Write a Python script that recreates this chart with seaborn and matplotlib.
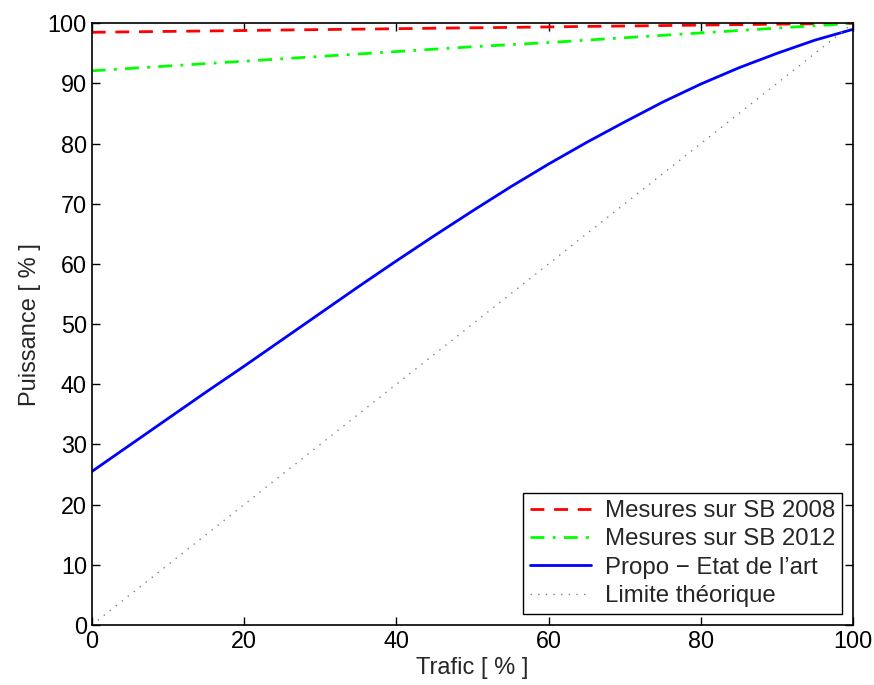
import pandas as pd
import numpy as np
import matplotlib
matplotlib.use("Agg")
import matplotlib.pyplot as plt
import seaborn as sns

# values
trafic = [0, 5, 10, 15, 20, 25, 30, 35, 40, 45, 50,
          55, 60, 65, 70, 75, 80, 85, 90, 95, 100]
sb2008 = [98.5, 98.58, 98.65, 98.72, 98.8, 98.88, 98.95, 99.02, 99.1, 99.18, 99.25,
          99.32, 99.4, 99.48, 99.55, 99.62, 99.7, 99.78, 99.85, 99.92, 100]
sb2012 = [92.1, 92.5, 92.9, 93.3, 93.7, 94.1, 94.5, 94.9, 95.3, 95.7, 96.1,
          96.45, 96.8, 97.2, 97.6, 98.0, 98.4, 98.8, 99.2, 99.6, 100]
propo = [25.5, 29.9, 34.3, 38.7, 43.0, 47.4, 51.8, 56.2, 60.5, 64.7, 68.8,
         72.8, 76.6, 80.2, 83.6, 86.9, 89.9, 92.6, 95.0, 97.2, 99.0]
limite = [0, 5, 10, 15, 20, 25, 30, 35, 40, 45, 50,
          55, 60, 65, 70, 75, 80, 85, 90, 95, 100]

labels = ["Mesures sur SB 2008", "Mesures sur SB 2012",
          "Propo \u2212 Etat de l\u2019art", "Limite th\u00e9orique"]

df = pd.DataFrame({"x": trafic, labels[0]: sb2008, labels[1]: sb2012,
                   labels[2]: propo, labels[3]: limite})

sns.set_style("ticks", {"xtick.direction": "in", "ytick.direction": "in"})
plt.rcParams['font.family'] = ['Liberation Sans', 'DejaVu Sans']

fig = plt.figure(figsize=(8.74, 6.85), dpi=100)
ax = fig.add_axes([0.105, 0.0876, 0.871, 0.8784])

styles = [("red", (0, (5, 3.5))), ("#00ff00", (0, (5, 3, 1, 3))),
          ("blue", "-"), ("grey", (0, (1, 4.5)))]
widths = [2, 2, 2, 1]
for i in range(len(labels)):
    c, ls = styles[i]
    sns.lineplot(x=df.x, y=df[labels[i]], color=c, linestyle=ls,
                 linewidth=widths[i], label=labels[i], ax=ax)

ax.set_xlim(0, 100)
ax.set_ylim(0, 100)
ax.set_xticks(np.arange(0, 101, 20))
ax.set_yticks(np.arange(0, 101, 10))
ax.tick_params(top=True, right=True, direction="in", labelsize=16.8,
               length=6, width=1, colors="black")
for s in ax.spines.values():
    s.set_visible(True)
    s.set_linewidth(1.2)
    s.set_color("black")
ax.set_xlabel("Trafic [ % ]", fontsize=17, labelpad=3)
ax.set_ylabel("Puissance [ % ]", fontsize=17, labelpad=5)

leg = ax.legend(loc="lower right", fontsize=17.3, fancybox=False,
                framealpha=1, edgecolor="black", handlelength=2.55,
                borderpad=0.3, labelspacing=0.26, borderaxespad=0.45,
                handletextpad=0.55)
leg.get_frame().set_linewidth(1)

plt.savefig("out.png", dpi=100)
